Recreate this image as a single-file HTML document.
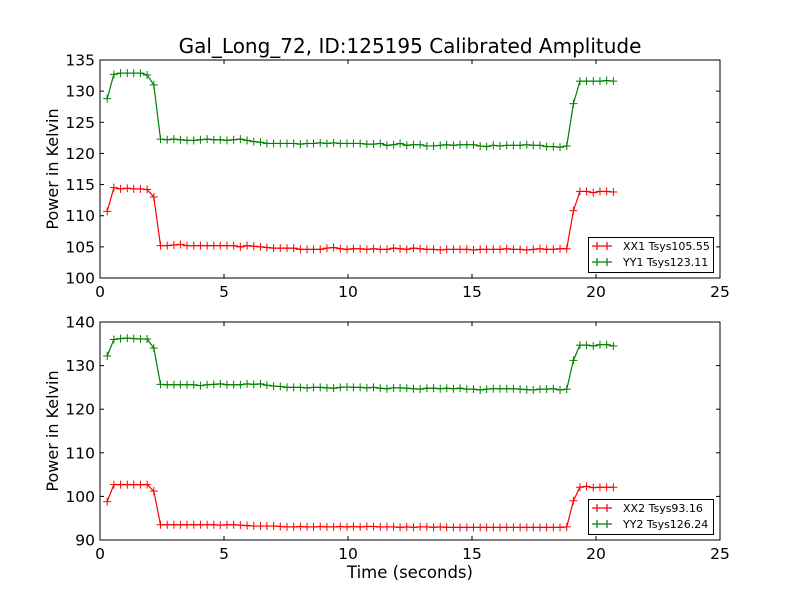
<!DOCTYPE html>
<html><head><meta charset="utf-8">
<style>
html,body{margin:0;padding:0;background:#fff;}
svg{display:block;font-family:"DejaVu Sans","Liberation Sans",sans-serif;}
</style></head>
<body>
<svg id="chart" width="800" height="600" viewBox="0 0 800 600" xmlns="http://www.w3.org/2000/svg">
<rect x="0" y="0" width="800" height="600" fill="#fff"/>
<text x="410" y="53" font-size="20" text-anchor="middle">Gal_Long_72, ID:125195 Calibrated Amplitude</text>
<text x="410" y="578" font-size="16.5" text-anchor="middle">Time (seconds)</text>
<text transform="translate(58,169) rotate(-90)" font-size="16" text-anchor="middle">Power in Kelvin</text>
<text transform="translate(58,431) rotate(-90)" font-size="16" text-anchor="middle">Power in Kelvin</text>
</svg>
<script>
const times = [0.29,0.56,0.83,1.10,1.36,1.63,1.90,2.17,2.44,2.71,2.98,3.24,3.51,3.78,4.05,4.32,4.59,4.85,5.12,5.39,5.66,5.93,6.20,6.47,6.73,7.00,7.27,7.54,7.81,8.08,8.35,8.61,8.88,9.15,9.42,9.69,9.96,10.22,10.49,10.76,11.03,11.30,11.57,11.84,12.10,12.37,12.64,12.91,13.18,13.45,13.72,13.98,14.25,14.52,14.79,15.06,15.33,15.59,15.86,16.13,16.40,16.67,16.94,17.21,17.47,17.74,18.01,18.28,18.55,18.82,19.09,19.35,19.62,19.89,20.16,20.43,20.70];
const xx1 = [110.7,114.5,114.3,114.4,114.3,114.3,114.2,113.0,
105.2,105.2,105.3,105.4,105.2,105.2,105.2,105.2,105.2,105.2,105.2,105.2,105.0,105.2,105.1,105.0,104.9,104.8,104.8,104.8,
104.8,104.6,104.6,104.6,104.6,104.8,104.9,104.7,104.6,104.7,104.7,104.6,104.7,104.6,104.6,104.8,104.7,104.6,104.8,104.7,
104.6,104.6,104.5,104.6,104.6,104.6,104.6,104.5,104.6,104.6,104.6,104.6,104.7,104.6,104.6,104.5,104.6,104.7,104.6,104.6,104.7,104.7,
110.8,113.9,113.9,113.7,113.9,113.9,113.8];
const yy1 = [128.8,132.7,132.9,132.9,132.9,132.9,132.6,131.0,
122.3,122.2,122.3,122.2,122.1,122.1,122.2,122.3,122.2,122.2,122.1,122.2,122.3,122.1,121.9,121.8,121.6,121.6,121.6,121.6,
121.6,121.5,121.6,121.6,121.7,121.6,121.7,121.6,121.6,121.6,121.6,121.5,121.5,121.6,121.3,121.4,121.6,121.3,121.4,121.4,
121.2,121.2,121.3,121.4,121.3,121.4,121.4,121.4,121.2,121.1,121.3,121.2,121.3,121.3,121.3,121.4,121.3,121.3,121.1,121.1,121.0,121.2,
128.0,131.6,131.6,131.6,131.6,131.7,131.6];
const xx2 = [98.8,102.7,102.7,102.7,102.7,102.7,102.7,101.2,
93.5,93.5,93.5,93.5,93.5,93.5,93.5,93.5,93.5,93.4,93.5,93.5,93.4,93.3,93.2,93.2,93.2,93.2,93.1,93.0,
93.0,93.1,93.0,93.0,93.1,93.0,93.0,93.1,93.0,93.1,93.0,93.1,93.1,93.0,93.0,93.0,92.9,93.0,92.9,93.0,
93.0,92.9,93.0,92.9,92.9,92.9,92.9,92.9,92.9,92.9,92.9,92.9,92.9,92.9,92.9,92.9,92.9,92.9,92.9,92.9,92.9,93.0,
99.0,102.1,102.3,102.0,102.1,102.1,102.1];
const yy2 = [132.2,136.0,136.2,136.3,136.2,136.1,136.1,134.0,
125.7,125.6,125.6,125.6,125.6,125.6,125.4,125.6,125.7,125.8,125.6,125.6,125.6,125.8,125.7,125.8,125.5,125.3,125.2,125.0,
125.0,125.0,124.9,125.0,125.0,124.9,124.8,125.0,125.1,125.0,125.0,124.9,125.0,124.8,124.7,124.9,124.9,124.8,124.7,124.6,
124.8,124.8,124.7,124.8,124.7,124.8,124.6,124.6,124.4,124.6,124.7,124.7,124.7,124.7,124.6,124.5,124.4,124.6,124.6,124.7,124.4,124.6,
131.2,134.7,134.7,134.5,134.8,134.8,134.5];
const xTicks = [0,5,10,15,20,25];
const yTicksTop = [100,105,110,115,120,125,130,135];
const yTicksBottom = [90,100,110,120,130,140];
const legendTop = ["XX1 Tsys105.55","YY1 Tsys123.11"];
const legendBottom = ["XX2 Tsys93.16","YY2 Tsys126.24"];

const svg = document.getElementById('chart');
const NS = 'http://www.w3.org/2000/svg';
function mk(tag, attrs, parent){const e=document.createElementNS(NS,tag);for(const k in attrs)e.setAttribute(k,attrs[k]);(parent||svg).appendChild(e);return e;}

function panel(name, top, bottom, ymin, ymax, yTicks, seriesList, labels, legendY){
  const L=100,R=720;
  const xs=v=>L+(v-0)/(25-0)*(R-L);
  const ys=v=>bottom-(v-ymin)/(ymax-ymin)*(bottom-top);
  const g=mk('g',{});
  
  
  seriesList.forEach((s,si)=>{
    const sg=mk('g',{},g);
    
    
    const pts=times.map((t,i)=>xs(t).toFixed(2)+','+ys(s.vals[i]).toFixed(2)).join(' ');
    mk('polyline',{points:pts,fill:'none',stroke:s.color,'stroke-width':1.2},sg);
    let d='';
    times.forEach((t,i)=>{const x=xs(t),y=ys(s.vals[i]);d+=`M${x-4},${y}H${x+4}M${x},${y-4}V${y+4}`;});
    mk('path',{d:d,stroke:s.color,'stroke-width':1,fill:'none'},sg);
  });
  const frame=mk('rect',{x:L,y:top,width:R-L,height:bottom-top,fill:'none',stroke:'#000','stroke-width':1},g);
  
  
  xTicks.forEach(v=>{
    const x=xs(v);
    mk('line',{x1:x,x2:x,y1:bottom,y2:bottom-4,stroke:'#000'},g);
    mk('line',{x1:x,x2:x,y1:top,y2:top+4,stroke:'#000'},g);
    const t=mk('text',{x:x,y:bottom+19,'font-size':15.5,'text-anchor':'middle'},g);
    
    
    t.textContent=v;
  });
  yTicks.forEach(v=>{
    const y=ys(v);
    mk('line',{x1:L,x2:L+4,y1:y,y2:y,stroke:'#000'},g);
    mk('line',{x1:R,x2:R-4,y1:y,y2:y,stroke:'#000'},g);
    const t=mk('text',{x:L-5,y:y+5.5,'font-size':15.5,'text-anchor':'end'},g);
    
    
    t.textContent=v;
  });
  const lg=mk('g',{},g);
  
  
  mk('rect',{x:588.5,y:legendY+0.5,width:125,height:35,fill:'#fff',stroke:'#000','stroke-width':1},lg);
  labels.forEach((lab,i)=>{
    const y=legendY+9+i*16;
    const c=seriesList[i].color;
    mk('path',{d:`M592,${y}H612M597,${y-4}V${y+4}M607,${y-4}V${y+4}`,stroke:c,'stroke-width':1.2,fill:'none'},lg);
    const t=mk('text',{x:623,y:y+4,'font-size':11},lg);
    
    
    t.textContent=lab;
  });
}
panel('top-panel',60,278,100,135,yTicksTop,[{name:'series-xx1',vals:xx1,color:'#ff0000'},{name:'series-yy1',vals:yy1,color:'#008000'}],legendTop,237);
panel('bottom-panel',322,540,90,140,yTicksBottom,[{name:'series-xx2',vals:xx2,color:'#ff0000'},{name:'series-yy2',vals:yy2,color:'#008000'}],legendBottom,499);
</script>
</body></html>
